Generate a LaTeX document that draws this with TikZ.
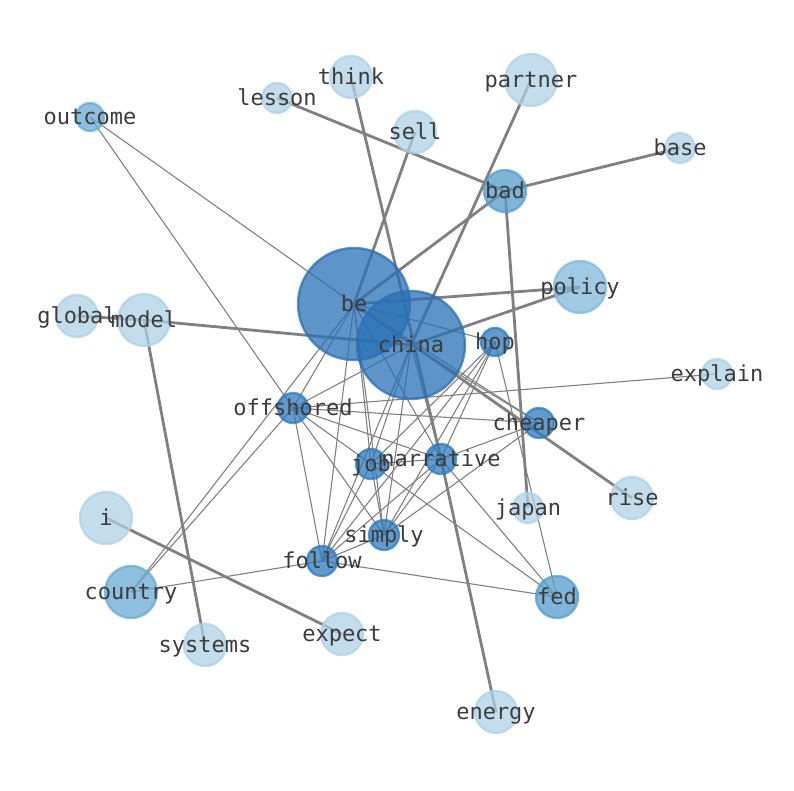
\documentclass[tikz,border=0pt]{standalone}
\usepackage{fontspec}
\setmonofont{DejaVu Sans Mono}
\definecolor{cdeep}{RGB}{40,112,180}
\definecolor{cdark}{RGB}{45,122,188}
\definecolor{cmid}{RGB}{86,156,205}
\definecolor{cmidl}{RGB}{104,170,212}
\definecolor{cpol}{RGB}{128,184,218}
\definecolor{clite}{RGB}{176,209,230}
\definecolor{wordgray}{RGB}{60,60,60}
\definecolor{linkgray}{RGB}{128,128,128}
\pgfdeclarelayer{links}
\pgfsetlayers{links,main}
\tikzset{
    dot/.style={circle,inner sep=0pt,fill=#1,draw=#1,fill opacity=.75,draw opacity=.75,line width=2.4pt},
    word/.style={text=wordgray,font=\ttfamily\fontsize{22}{22}\selectfont,inner sep=0pt,text height=19pt,text depth=4pt},
    weak/.style={draw=linkgray,line width=1.1pt},
    strong/.style={draw=linkgray,line width=2.8pt},
}

\begin{document}
\begin{tikzpicture}[x=1pt,y=-1pt]
    \useasboundingbox (0,0) rectangle (794,790);
    % words
    \foreach \n/\x/\y/\r/\c in {
        be/354/304/57/cdeep, china/411/345/55/cdeep,
        outcome/90/117/15/cmidl, think/351/77/22/clite, lesson/277/98/16/clite,
        sell/415/132/22/clite, partner/531/80/27/clite, base/680/148/16/clite,
        bad/505/191/22/cmid, policy/580/287/27/cpol, global/77/316/22/clite,
        model/144/320/27/clite, hop/495/342/15/cdark, explain/717/374/16/clite,
        offshored/293/408/16/cdark, cheaper/539/423/16/cdark, job/371/464/16/cdark,
        narrative/441/459/16/cdark, japan/528/508/16/clite, rise/632/498/22/clite,
        i/106/518/27/clite, simply/384/535/16/cdark, follow/322/561/16/cdark,
        country/131/592/27/cmidl, fed/557/597/22/cmid, expect/342/634/22/clite,
        systems/205/645/22/clite, energy/496/712/22/clite}
        \node[dot=\c,minimum size={2*\r pt-2pt}] (\n) at (\x,\y) {};
    \begin{pgfonlayer}{links}
        \foreach \a/\b in {lesson/bad, bad/base, bad/be, bad/japan, sell/be,
            partner/china, be/policy, china/policy, global/model, model/china,
            model/systems, think/narrative, narrative/energy, i/expect, be/rise}
            \draw[strong] (\a.center) -- (\b.center);
        \foreach \a/\b in {outcome/be, outcome/offshored, offshored/simply,
            explain/offshored, be/offshored, be/job, be/simply, be/follow,
            be/narrative, be/cheaper, be/hop, be/country, china/offshored,
            china/job, china/simply, china/follow, china/narrative, china/cheaper,
            country/offshored, country/follow, offshored/cheaper,
            offshored/narrative, offshored/fed, offshored/follow, hop/job,
            hop/narrative, hop/simply, hop/follow, hop/fed, narrative/cheaper,
            simply/cheaper, narrative/fed, follow/fed, job/narrative, job/simply,
            job/follow, simply/narrative, simply/follow, follow/narrative}
            \draw[weak] (\a.center) -- (\b.center);
    \end{pgfonlayer}
    \foreach \n in {be,china,outcome,think,lesson,sell,partner,base,bad,policy,
        global,model,hop,explain,offshored,cheaper,job,narrative,japan,rise,i,
        simply,follow,country,fed,expect,systems,energy}
        \node[word] at (\n) {\n};
\end{tikzpicture}
\end{document}
